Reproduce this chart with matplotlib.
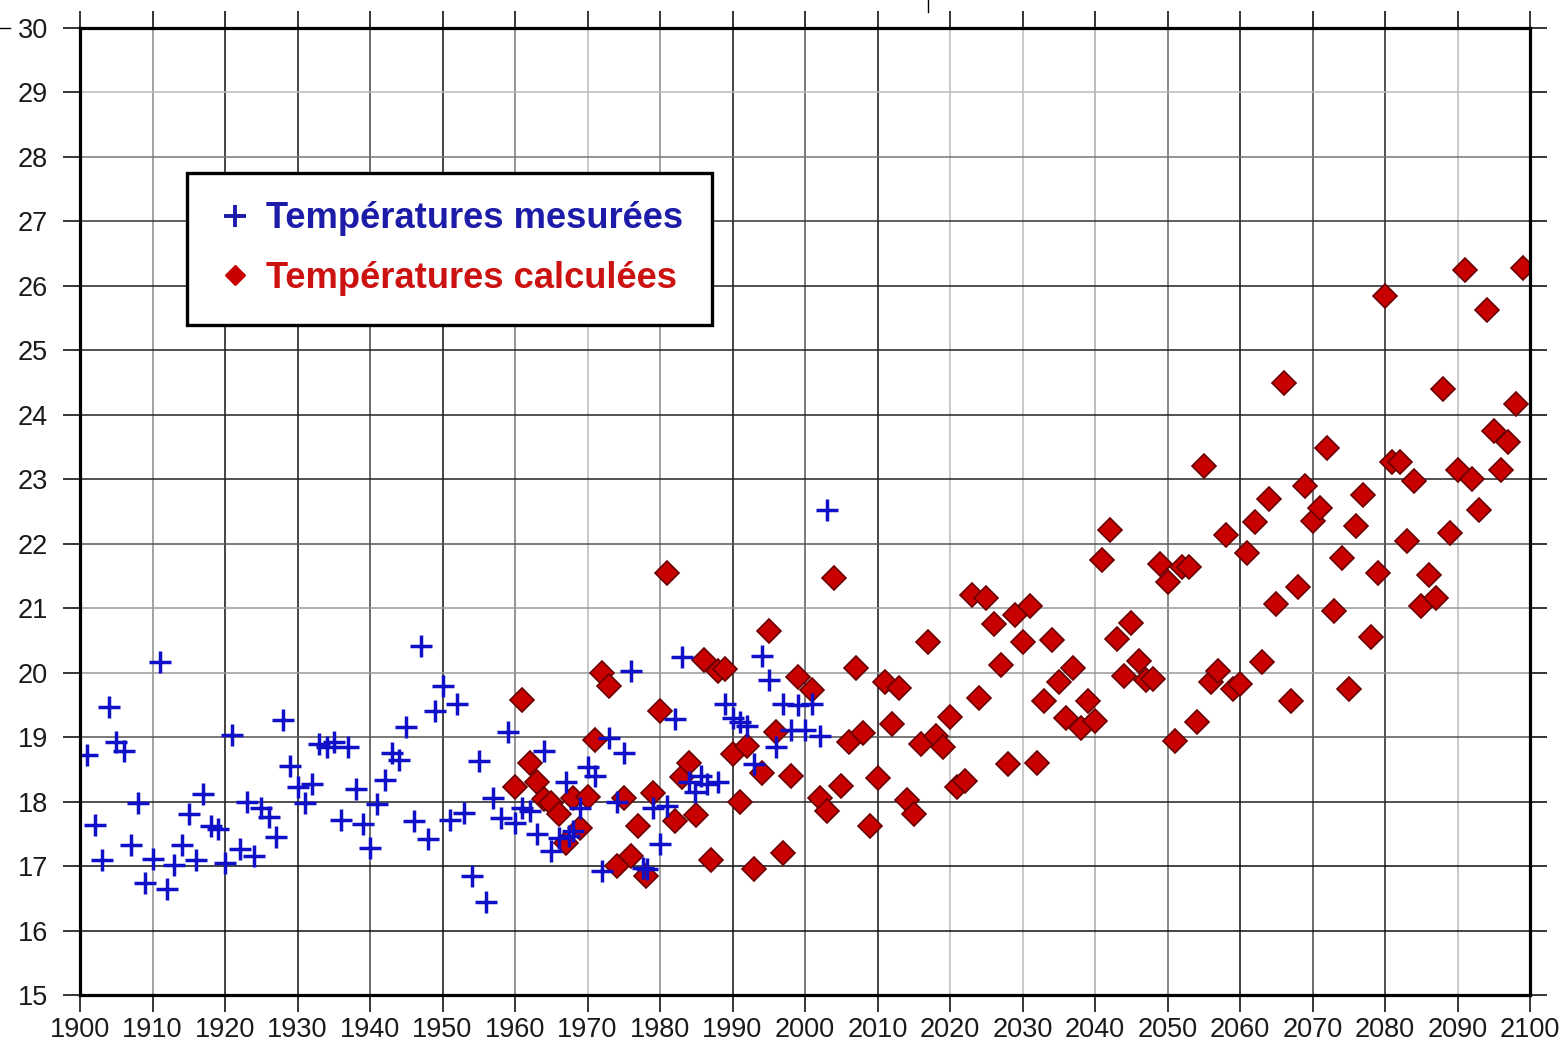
import numpy as np
import matplotlib
matplotlib.use("Agg")
import matplotlib.pyplot as plt
from matplotlib.lines import Line2D

# températures mesurées (année, valeur)
years_mes = [1901, 1902, 1903, 1904, 1905, 1906, 1907, 1908, 1909, 1910,
             1911, 1912, 1913, 1914, 1915, 1916, 1917, 1918, 1919, 1920,
             1921, 1922, 1923, 1924, 1925, 1926, 1927, 1928, 1929, 1930,
             1931, 1932, 1933, 1934, 1935, 1936, 1937, 1938, 1939, 1940,
             1941, 1942, 1943, 1944, 1945, 1946, 1947, 1948, 1949, 1950,
             1951, 1952, 1953, 1954, 1955, 1956, 1957, 1958, 1959, 1960,
             1961, 1962, 1963, 1964, 1965, 1966, 1967, 1967.4, 1968, 1969,
             1970, 1971, 1972, 1973, 1974, 1975, 1976, 1977.7, 1978.2, 1979,
             1980, 1981, 1982, 1983, 1984, 1984.8, 1985.6, 1986.5, 1988, 1989,
             1990, 1991, 1992, 1993, 1994, 1995, 1996, 1997, 1998, 1999,
             2000, 2001, 2002, 2003]
temp_mes = [18.72, 17.64, 17.10, 19.46, 18.92, 18.79, 17.33, 17.98, 16.73, 17.11,
            20.16, 16.65, 17.02, 17.33, 17.80, 17.09, 18.12, 17.62, 17.57, 17.05,
            19.04, 17.26, 18.00, 17.16, 17.90, 17.76, 17.45, 19.27, 18.55, 18.23,
            17.98, 18.28, 18.89, 18.84, 18.92, 17.72, 18.84, 18.19, 17.65, 17.28,
            17.97, 18.34, 18.76, 18.64, 19.16, 17.70, 20.42, 17.42, 19.41, 19.80,
            17.72, 19.51, 17.83, 16.84, 18.63, 16.44, 18.05, 17.74, 19.08, 17.67,
            17.90, 17.85, 17.49, 18.78, 17.23, 17.44, 18.31, 17.47, 17.54, 17.90,
            18.54, 18.40, 16.92, 18.99, 18.00, 18.75, 20.03, 16.97, 16.95, 17.90,
            17.34, 17.93, 19.28, 20.25, 18.30, 18.15, 18.40, 18.27, 18.30, 19.51,
            19.30, 19.23, 19.17, 18.58, 20.26, 19.89, 18.85, 19.51, 19.11, 19.50,
            19.11, 19.51, 19.02, 22.53]

# températures calculées, une valeur par année de 1960 à 2099
years_calc = list(range(1960, 2100))
temp_calc = [18.23, 19.58, 18.60, 18.30, 18.04, 17.98, 17.80, 17.36, 18.06, 17.59,
             18.07, 18.95, 20.00, 19.80, 17.00, 18.06, 17.15, 17.62, 16.84, 18.14,
             19.40, 21.54, 17.70, 18.38, 18.60, 17.79, 20.19, 17.10, 20.03, 20.06,
             18.74, 18.00, 18.86, 16.95, 18.45, 20.64, 19.08, 17.21, 18.40, 19.94,
             np.nan, 19.73, 18.06, 17.85, 21.47, 18.24, 18.92, 20.08, 19.06, 17.62,
             18.37, 19.85, 19.21, 19.76, 18.02, 17.80, 18.90, 20.48, 19.02, 18.85,
             19.32, 18.22, 18.32, 21.21, 19.60, 21.16, 20.76, 20.12, 18.58, 20.89,
             20.47, 21.03, 18.60, 19.56, 20.51, 19.85, 19.30, 20.07, 19.14, 19.56,
             19.25, 21.75, 22.22, 20.52, 19.95, 20.77, 20.18, 19.88, 19.90, 21.68,
             21.40, 18.94, 21.64, 21.64, 19.23, 23.20, 19.85, 20.03, 22.14, 19.75,
             19.82, 21.86, 22.34, 20.16, 22.69, 21.07, 24.49, 19.56, 21.33, 22.90,
             22.36, 22.55, 23.48, 20.96, 21.78, 19.74, 22.27, 22.75, 20.55, 21.54,
             25.85, 23.27, 23.27, 22.04, 22.98, 21.04, 21.52, 21.16, 24.40, 22.16,
             23.14, 26.24, 23.01, 22.53, 25.62, 23.75, 23.14, 23.58, 24.16, 26.28]

x_ticks = list(range(1900, 2101, 10))
y_ticks = list(range(15, 31))

# grille : certaines lignes plus claires que d'autres
vgrid_colors = ["#111111", "#888888", "#111111", "#111111", "#444444", "#111111",
                "#777777", "#bbbbbb", "#888888", "#111111", "#555555", "#111111",
                "#bbbbbb", "#bbbbbb", "#aaaaaa", "#666666", "#111111", "#444444",
                "#222222", "#bbbbbb", "#111111"]
hgrid_colors = ["#111111", "#111111", "#111111", "#222222", "#555555", "#999999",
                "#999999", "#555555", "#222222", "#222222", "#222222", "#222222",
                "#333333", "#777777", "#bbbbbb", "#111111"]

plt.rcParams["font.family"] = ["Liberation Sans", "DejaVu Sans"]

fig = plt.figure(figsize=(15.68, 10.5), dpi=100)
ax = fig.add_axes([80 / 1568, 1 - 995 / 1050, 1450 / 1568, 967 / 1050])

for x, c in zip(x_ticks, vgrid_colors):
    ax.axvline(x, color=c, lw=1.1, zorder=1)
for y, c in zip(y_ticks, hgrid_colors):
    ax.axhline(y, color=c, lw=1.1, zorder=1)

ax.plot(years_calc, temp_calc, linestyle="none", marker="D", markersize=12,
        markerfacecolor="#c80000", markeredgecolor="#6a0000", markeredgewidth=1.2,
        zorder=3)
ax.plot(years_mes, temp_mes, linestyle="none", marker="+", markersize=16,
        markeredgewidth=2.5, color="#1010c8", zorder=4)

ax.set_xlim(1900, 2100)
ax.set_ylim(15, 30)
ax.set_xticks(x_ticks)
ax.set_yticks(y_ticks)
ax.tick_params(axis="both", direction="out", length=12, width=1.1, color="black",
               labelsize=19.5, labelcolor="#1a1a1a", top=True, right=True)
ax.tick_params(axis="x", pad=4)
ax.tick_params(axis="y", pad=11)
for s in ax.spines.values():
    s.set_linewidth(2.3)
    s.set_color("black")
    s.set_zorder(5)

handles = [
    Line2D([], [], linestyle="none", marker="+", markersize=16, markeredgewidth=2.8,
           color="#1c1ca8"),
    Line2D([], [], linestyle="none", marker="D", markersize=10,
           markerfacecolor="#c80000", markeredgecolor="#c80000"),
]
leg = ax.legend(handles, ["Températures mesurées", "Températures calculées"],
                loc="upper left", bbox_to_anchor=((187 - 80) / 1450, (995 - 173) / 967),
                prop={"weight": "bold", "size": 26.2}, frameon=True, fancybox=False,
                edgecolor="black", framealpha=1, borderpad=0.78, labelspacing=0.68,
                handlelength=1.1, handletextpad=0.3, borderaxespad=0)
leg.get_frame().set_linewidth(2.4)
leg.get_texts()[0].set_color("#1c1ca8")
leg.get_texts()[1].set_color("#cc1111")
leg.set_zorder(6)

# petits traits parasites du scan original
fig.add_artist(Line2D([0, 10 / 1568], [1 - 28 / 1050] * 2, color="black", lw=1))
fig.add_artist(Line2D([928 / 1568] * 2, [1, 1 - 12 / 1050], color="black", lw=1))

fig.savefig("out.png", dpi=100)
